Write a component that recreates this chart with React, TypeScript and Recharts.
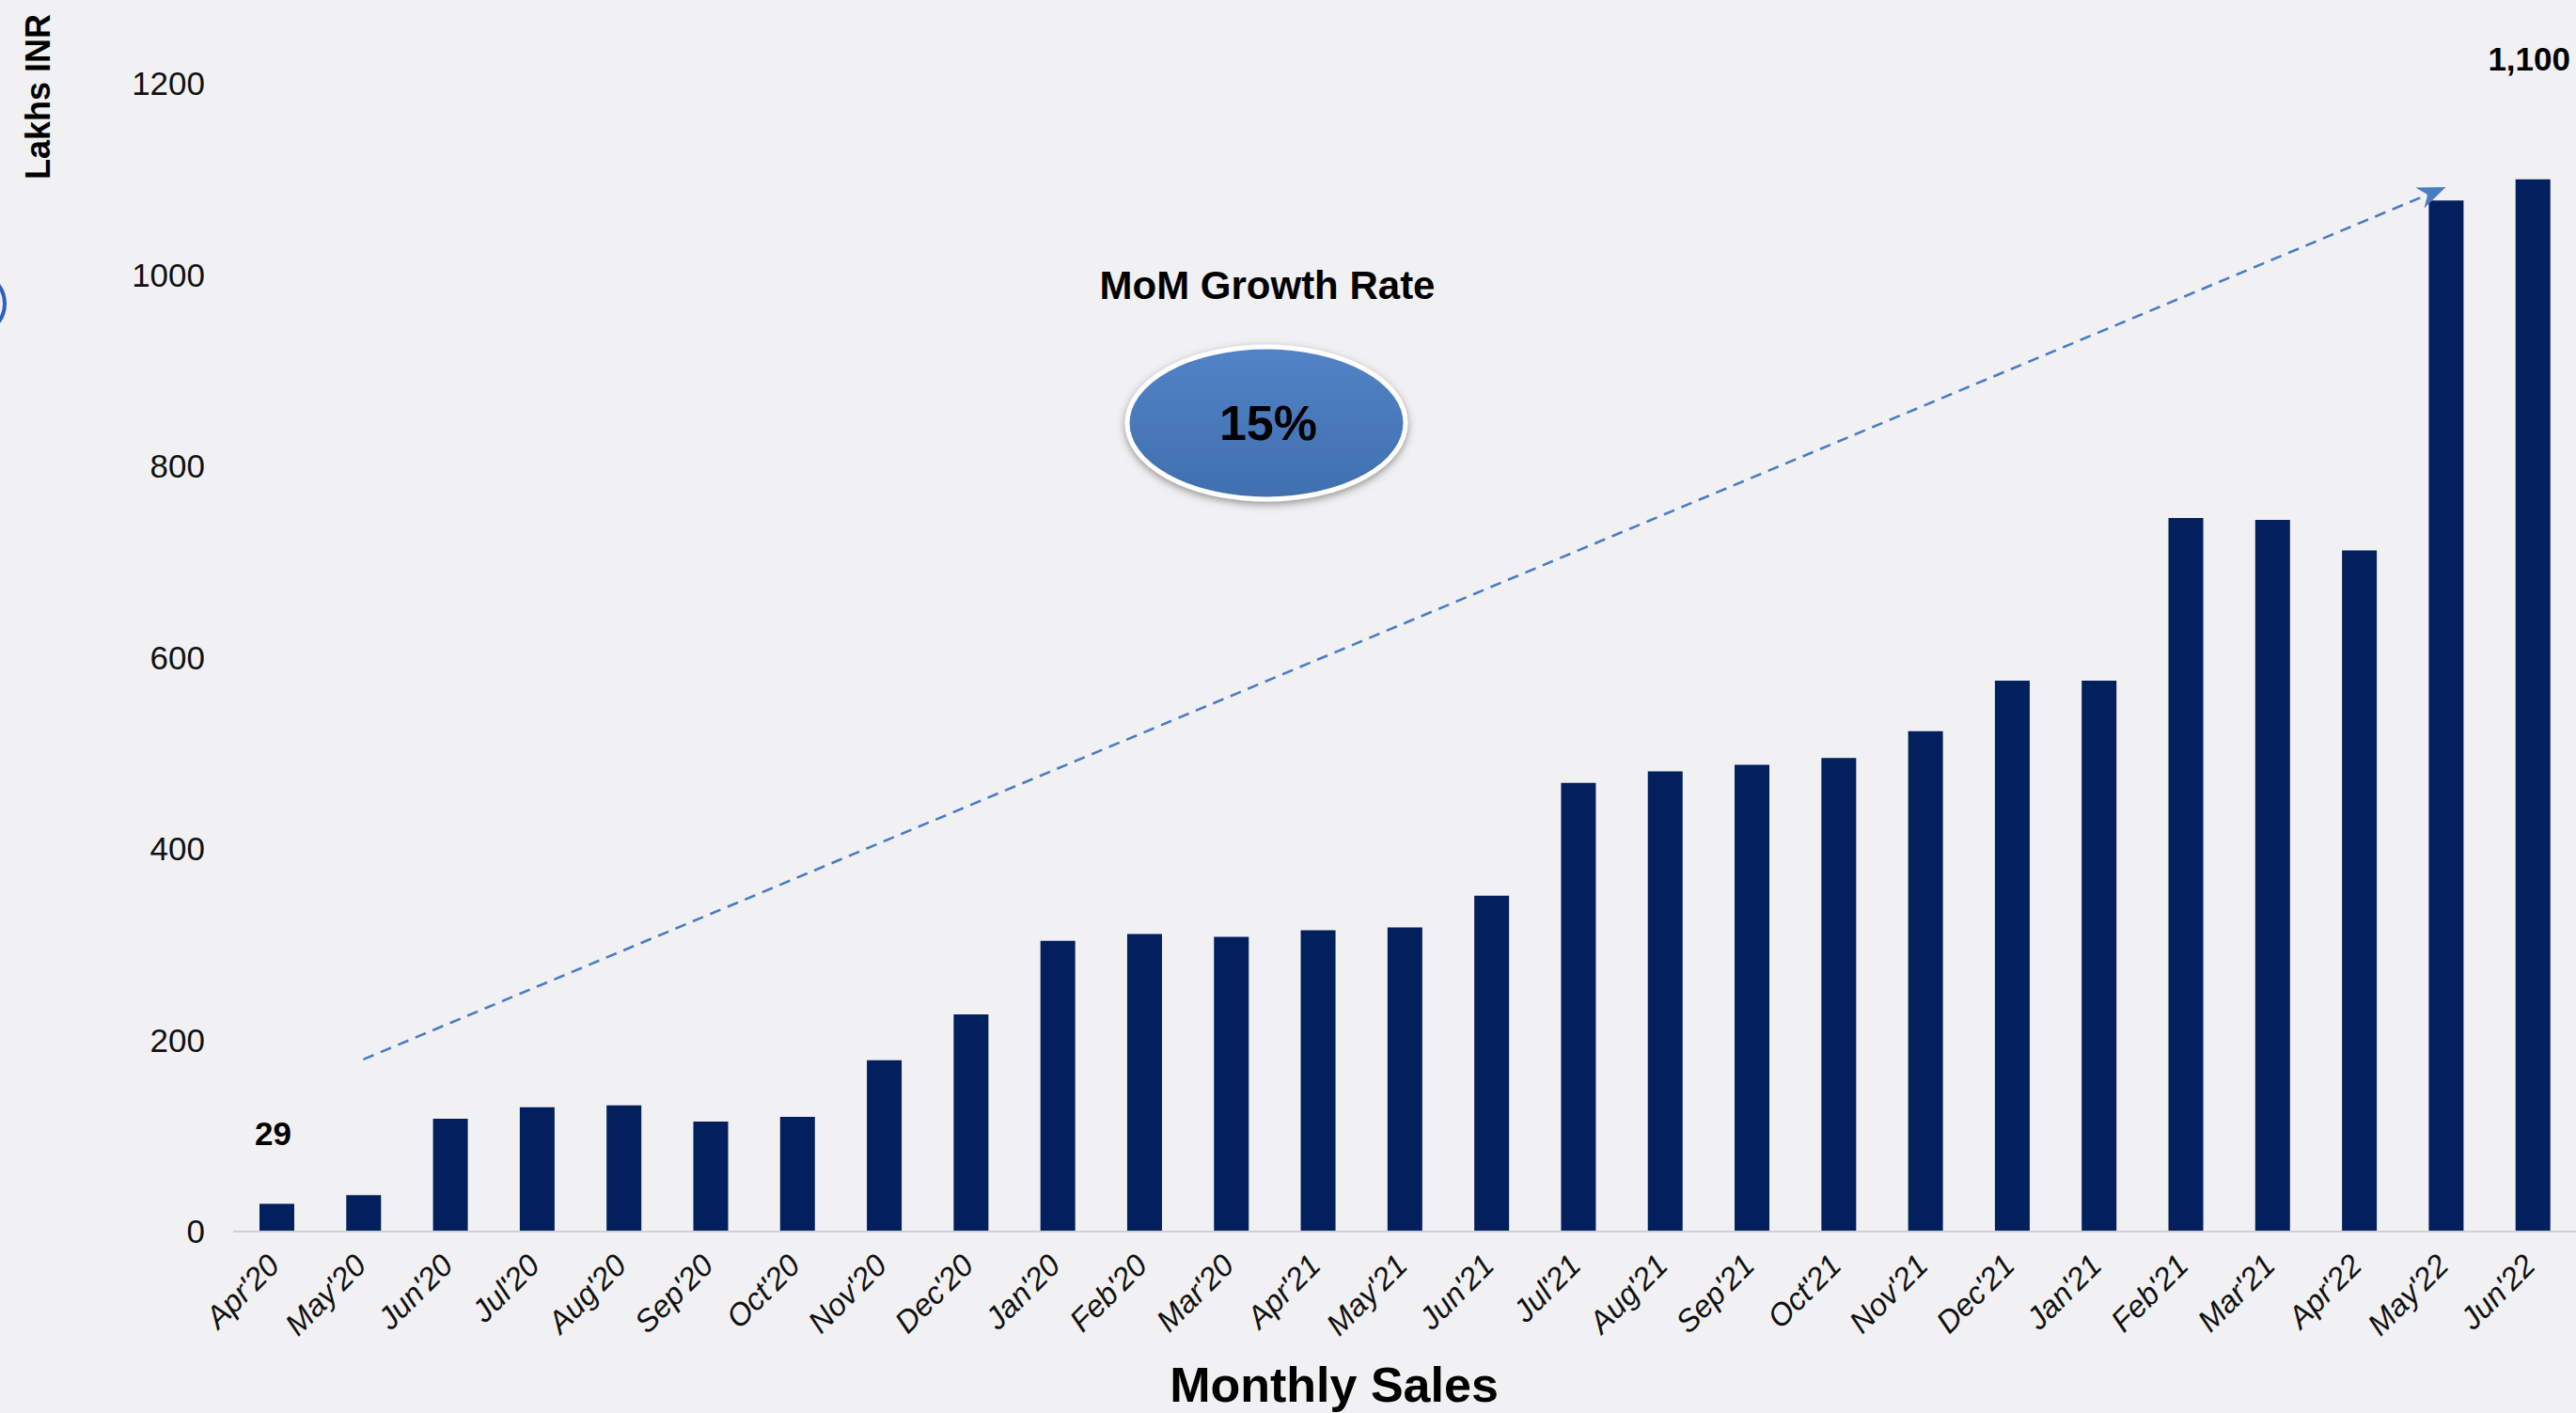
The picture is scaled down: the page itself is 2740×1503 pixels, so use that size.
import React from "react";
import { BarChart, Bar, XAxis, YAxis, ReferenceLine, LabelList } from "recharts";

const months = [
  "Apr'20", "May'20", "Jun'20", "Jul'20", "Aug'20", "Sep'20", "Oct'20",
  "Nov'20", "Dec'20", "Jan'20", "Feb'20", "Mar'20", "Apr'21", "May'21",
  "Jun'21", "Jul'21", "Aug'21", "Sep'21", "Oct'21", "Nov'21", "Dec'21",
  "Jan'21", "Feb'21", "Mar'21", "Apr'22", "May'22", "Jun'22",
];

const sales = [
  29, 38, 118, 130, 132, 115, 120,
  179, 227, 304, 311, 308, 315, 318,
  351, 469, 481, 488, 495, 523, 576,
  576, 746, 744, 712, 1078, 1100,
];

const yTicks = [0, 200, 400, 600, 800, 1000, 1200];

// only the first and last bars carry a value label
const calloutMonths = ["Apr'20", "Jun'22"];
const calloutText = ["29", "1,100"];
const calloutLift = [62, 116];

// trend arrow, from/to in data units
const trendFrom = { x: "May'20", y: 180 };
const trendTo = { x: "May'22", y: 1092 };

const growthTitle = "MoM Growth Rate";
const growthRate = "15%";

const FONT = "'Liberation Sans', Arial, Helvetica, sans-serif";
const NAVY = "#02205e";
const ARROW = "#4a7cc4";

const data = months.map((m, i) => ({ month: m, sales: sales[i] }));

const MonthTick = ({ x, y, payload }: any) => {
  const tx = x + 5;
  const ty = y + 38;
  return (
    <text
      x={tx}
      y={ty}
      transform={`rotate(-45, ${tx}, ${ty})`}
      textAnchor="end"
      fontStyle="italic"
      fontSize={33}
      fontFamily={FONT}
      fill="#111"
    >
      {payload.value}
    </text>
  );
};

const Callout = (props: any) => {
  const { x, y, width, index } = props;
  const k = calloutMonths.indexOf(months[index]);
  if (k < 0) return null;
  return (
    <text
      x={x + width / 2 - 4}
      y={y - calloutLift[k]}
      textAnchor="middle"
      fontSize={35}
      fontWeight="bold"
      fontFamily={FONT}
      fill="#000"
    >
      {calloutText[k]}
    </text>
  );
};

const TrendArrow = (props: any) => {
  const { x1, y1, x2, y2 } = props;
  const a = Math.atan2(y2 - y1, x2 - x1);
  const c = Math.cos(a);
  const s = Math.sin(a);
  const len = 30;
  const half = 12;
  const bx = x2 - len * c;
  const by = y2 - len * s;
  const nx = x2 - len * 0.7 * c;
  const ny = y2 - len * 0.7 * s;
  const pts = [
    [x2, y2],
    [bx - s * half, by + c * half],
    [nx, ny],
    [bx + s * half, by - c * half],
  ]
    .map((p) => p.join(","))
    .join(" ");
  return (
    <g>
      <line
        x1={x1}
        y1={y1}
        x2={nx}
        y2={ny}
        stroke={ARROW}
        strokeWidth={2.6}
        strokeDasharray="12 8"
      />
      <polygon points={pts} fill={ARROW} />
    </g>
  );
};

export default function App() {
  return (
    <div
      style={{
        position: "absolute",
        left: 0,
        top: 0,
        width: 2740,
        height: 1503,
        background: "#f1f1f3",
        overflow: "hidden",
        fontFamily: FONT,
      }}
    >
      <BarChart
        width={2740}
        height={1503}
        data={data}
        margin={{ top: 89, right: 0, left: 0, bottom: 0 }}
      >
        <XAxis
          dataKey="month"
          interval={0}
          height={193}
          tickLine={false}
          tickSize={0}
          tickMargin={0}
          axisLine={{ stroke: "#cfd0d4", strokeWidth: 2 }}
          tick={<MonthTick />}
        />
        <YAxis
          domain={[0, 1200]}
          ticks={yTicks}
          width={248}
          axisLine={false}
          tickLine={false}
          tickSize={0}
          tickMargin={30}
          tick={{ fontSize: 35, fill: "#111", fontFamily: FONT }}
        />
        <Bar dataKey="sales" fill={NAVY} barSize={37} isAnimationActive={false}>
          <LabelList dataKey="sales" content={<Callout />} />
        </Bar>
        <ReferenceLine
          segment={[trendFrom, trendTo]}
          stroke={ARROW}
          shape={(p: any) => <TrendArrow {...p} />}
        />
      </BarChart>

      <svg
        width={2740}
        height={1503}
        style={{ position: "absolute", left: 0, top: 0, pointerEvents: "none" }}
      >
        <defs>
          <linearGradient id="pill" x1="0" y1="0" x2="0" y2="1">
            <stop offset="0%" stopColor="#5283c6" />
            <stop offset="100%" stopColor="#3f6fae" />
          </linearGradient>
          <filter id="shadow" x="-20%" y="-20%" width="140%" height="150%">
            <feDropShadow dx="0" dy="3" stdDeviation="4" floodColor="#555" floodOpacity="0.6" />
          </filter>
        </defs>
        <circle cx={-28} cy={323} r={33} fill="none" stroke="#2d5fc0" strokeWidth={4} />
        <text
          transform="translate(53,103) rotate(-90)"
          textAnchor="middle"
          fontSize={36}
          fontWeight="bold"
          fontFamily={FONT}
          fill="#000"
        >
          Lakhs INR
        </text>
        <text
          x={1348}
          y={318}
          textAnchor="middle"
          fontSize={42}
          fontWeight="bold"
          fontFamily={FONT}
          fill="#000"
        >
          {growthTitle}
        </text>
        <ellipse
          cx={1347}
          cy={450}
          rx={148}
          ry={81}
          fill="url(#pill)"
          stroke="#ffffff"
          strokeWidth={5}
          filter="url(#shadow)"
        />
        <text
          x={1349}
          y={468}
          textAnchor="middle"
          fontSize={52}
          fontWeight="bold"
          fontFamily={FONT}
          fill="#000"
        >
          {growthRate}
        </text>
        <text
          x={1419}
          y={1491}
          textAnchor="middle"
          fontSize={52}
          fontWeight="bold"
          fontFamily={FONT}
          fill="#000"
        >
          Monthly Sales
        </text>
      </svg>
    </div>
  );
}
